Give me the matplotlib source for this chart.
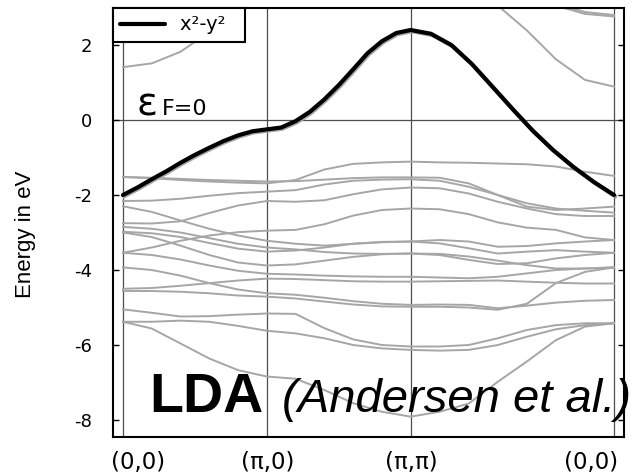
import matplotlib
matplotlib.use("Agg")
import matplotlib.pyplot as plt
from matplotlib import font_manager

plt.rcParams["axes.unicode_minus"] = False

available = {f.name for f in font_manager.fontManager.ttflist}
SANS = "Liberation Sans" if "Liberation Sans" in available else "DejaVu Sans"

# k-path: (0,0)-(pi,0) = 1, (pi,0)-(pi,pi) = 1, (pi,pi)-(0,0) = sqrt(2)
k_path = [0.0, 0.2, 0.4, 0.6, 0.8, 1.0,
          1.2, 1.4, 1.6, 1.8, 2.0,
          2.202, 2.404, 2.606, 2.808, 3.010, 3.212, 3.414]
k_nodes = [0.0, 1.0, 2.0, 3.414]
k_labels = ["(0,0)", "(\u03c0,0)", "(\u03c0,\u03c0)", "(0,0)"]

# finer k grid for the x2-y2 band
k_fine = [0.0, 0.1, 0.2, 0.3, 0.4, 0.5, 0.6, 0.7, 0.8, 0.9, 1.0,
          1.1, 1.2, 1.3, 1.4, 1.5, 1.6, 1.7, 1.8, 1.9, 2.0,
          2.141, 2.283, 2.424, 2.566, 2.707, 2.848, 2.990, 3.131, 3.273, 3.414]
band_x2y2 = [-2.00, -1.80, -1.58, -1.37, -1.14, -0.93, -0.74, -0.56, -0.41, -0.30, -0.25,
             -0.20, -0.03, 0.22, 0.55, 0.93, 1.35, 1.78, 2.10, 2.32, 2.40,
             2.30, 2.00, 1.50, 0.90, 0.30, -0.28, -0.80, -1.25, -1.65, -2.00]

# other LDA bands (eV)
band_01 = [-1.52, -1.55, -1.60, -1.64, -1.67, -1.69, -1.60, -1.32, -1.17, -1.13, -1.11,
           -1.13, -1.14, -1.16, -1.18, -1.24, -1.38, -1.49]
band_02 = [-1.52, -1.54, -1.57, -1.60, -1.62, -1.64, -1.63, -1.59, -1.55, -1.53, -1.53,
           -1.54, -1.69, -2.00, -2.31, -2.40, -2.36, -2.31]
band_03 = [-2.16, -2.15, -2.10, -2.02, -1.95, -1.91, -1.87, -1.72, -1.62, -1.59, -1.58,
           -1.62, -1.78, -2.00, -2.22, -2.36, -2.42, -2.47]
band_04 = [-2.30, -2.45, -2.68, -2.90, -3.08, -3.22, -3.30, -3.35, -3.30, -3.26, -3.24,
           -3.20, -3.24, -3.38, -3.36, -3.29, -3.24, -3.20]
band_05 = [-2.75, -2.76, -2.70, -2.48, -2.28, -2.16, -2.18, -2.14, -1.98, -1.85, -1.80,
           -1.82, -1.96, -2.18, -2.36, -2.51, -2.56, -2.56]
band_06 = [-2.85, -2.90, -3.00, -3.15, -3.30, -3.40, -3.45, -3.52, -3.56, -3.57, -3.56,
           -3.60, -3.73, -3.84, -3.82, -3.69, -3.60, -3.54]
band_07 = [-2.98, -3.02, -3.12, -3.28, -3.43, -3.51, -3.48, -3.40, -3.30, -3.25, -3.24,
           -3.29, -3.42, -3.56, -3.51, -3.47, -3.51, -3.54]
band_08 = [-3.00, -3.12, -3.35, -3.60, -3.80, -3.88, -3.85, -3.75, -3.65, -3.58, -3.56,
           -3.57, -3.64, -3.75, -3.87, -3.96, -3.96, -3.93]
band_09 = [-3.54, -3.40, -3.22, -3.08, -2.99, -2.95, -2.93, -2.78, -2.55, -2.40, -2.36,
           -2.38, -2.51, -2.73, -2.87, -2.93, -3.13, -3.20]
band_10 = [-3.54, -3.60, -3.72, -3.88, -4.02, -4.10, -4.12, -4.15, -4.17, -4.18, -4.18,
           -4.20, -4.22, -4.18, -4.09, -4.00, -3.96, -3.93]
band_11 = [-3.93, -4.00, -4.15, -4.35, -4.52, -4.62, -4.66, -4.74, -4.83, -4.90, -4.93,
           -4.92, -4.93, -5.02, -4.95, -4.87, -4.82, -4.80]
band_12 = [-4.50, -4.48, -4.42, -4.35, -4.28, -4.23, -4.24, -4.27, -4.30, -4.31, -4.31,
           -4.30, -4.29, -4.28, -4.31, -4.34, -4.36, -4.36]
band_13 = [-4.56, -4.56, -4.58, -4.62, -4.68, -4.71, -4.76, -4.84, -4.92, -4.97, -4.98,
           -4.98, -5.00, -5.06, -4.90, -4.35, -4.05, -3.93]
band_14 = [-5.05, -5.14, -5.24, -5.23, -5.19, -5.16, -5.17, -5.55, -5.85, -6.00, -6.04,
           -6.04, -6.00, -5.82, -5.60, -5.47, -5.42, -5.42]
band_15 = [-5.38, -5.38, -5.35, -5.38, -5.49, -5.62, -5.69, -5.82, -6.00, -6.09, -6.13,
           -6.15, -6.13, -6.00, -5.78, -5.58, -5.47, -5.42]
band_16 = [-5.38, -5.56, -5.96, -6.36, -6.67, -6.84, -6.90, -7.20, -7.55, -7.78, -7.91,
           -7.78, -7.56, -6.98, -6.44, -5.87, -5.51, -5.42]
# bands above the Fermi level (partly off the top of the plot)
band_17 = [1.41, 1.51, 1.82, 2.35, 2.95, 3.50, 3.90, 4.10, 4.20, 4.25, 4.25,
           4.10, 3.65, 3.05, 2.39, 1.62, 1.07, 0.89]
band_18 = [2.76, 2.90, 3.20, 3.60, 4.00, 4.30, 4.50, 4.60, 4.60, 4.60, 4.60,
           4.40, 4.00, 3.60, 3.25, 3.05, 2.83, 2.76]
band_19 = [2.80, 2.95, 3.25, 3.65, 4.05, 4.35, 4.55, 4.65, 4.65, 4.65, 4.65,
           4.45, 4.05, 3.65, 3.30, 3.10, 2.88, 2.80]

grey_bands = [band_01, band_02, band_03, band_04, band_05, band_06, band_07,
              band_08, band_09, band_10, band_11, band_12, band_13, band_14,
              band_15, band_16, band_17, band_18, band_19]

fig = plt.figure(figsize=(6.32, 4.76), dpi=100)
ax = fig.add_axes([113 / 632, 39 / 476, 511 / 632, 429 / 476])

for kn in k_nodes:
    ax.axvline(kn, color="#4d4d4d", lw=0.9, zorder=1)
ax.axhline(0.0, color="#4d4d4d", lw=0.9, zorder=1)

for band in grey_bands:
    ax.plot(k_path, band, color="#a6a6a6", lw=1.4, zorder=2,
            solid_joinstyle="round")
# light shadow of the x2-y2 band, as in the original
ax.plot(k_fine, band_x2y2, color="#a6a6a6", lw=3.0, zorder=2.5,
        transform=ax.transData + matplotlib.transforms.ScaledTranslation(
            1.2 / 100, -1.2 / 100, fig.dpi_scale_trans))
line_x2y2, = ax.plot(k_fine, band_x2y2, color="black", lw=3.0, zorder=3,
                     solid_capstyle="round", solid_joinstyle="round",
                     label="x\u00b2-y\u00b2  ")

ax.set_xlim(-0.0695, 3.4835)
ax.set_ylim(-8.453, 2.987)
ax.set_xticks([])
ax.set_yticks([-8, -6, -4, -2, 0, 2])
ax.tick_params(axis="y", direction="in", length=4, width=1, left=True, right=True,
               labelsize=13, pad=15)
for sp in ax.spines.values():
    sp.set_linewidth(1.5)

for kn, lab, dx in zip(k_nodes, k_labels, [15, 1, 1, -23]):
    ax.annotate(lab, xy=(kn, 0), xycoords=("data", "axes fraction"),
                xytext=(dx, -25), textcoords="offset pixels",
                ha="center", va="center", fontsize=16.5, annotation_clip=False)

fig.text(26 / 632, 1 - 234 / 476, "Energy in eV", rotation=90, ha="center",
         va="center", fontsize=16, family=SANS)

leg = ax.legend(handles=[line_x2y2], loc="upper left", bbox_to_anchor=(0, 1),
                borderaxespad=0, fancybox=False, edgecolor="black", framealpha=1,
                fontsize=14, handlelength=2.3, handletextpad=0.75, borderpad=0.38)
leg.get_frame().set_linewidth(1.5)

ax.text(0.095, 0.13, "\u03b5", fontsize=28, va="baseline", ha="left")
ax.text(0.271, 0.13, "F=0", fontsize=16, va="baseline", ha="left")

ax.text(0.18, -7.79, "LDA", fontsize=40, fontweight="bold", family=SANS,
        va="baseline", ha="left", zorder=6)
ax.text(1.106, -7.79, "(Andersen et al.)", fontsize=34, style="italic", family=SANS,
        va="baseline", ha="left", zorder=6, clip_on=False)

fig.savefig("out.png", dpi=100)
